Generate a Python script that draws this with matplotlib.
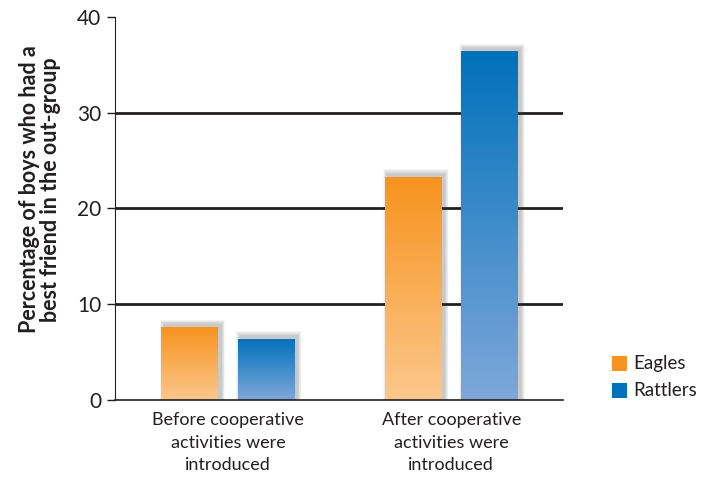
import numpy as np
import matplotlib.pyplot as plt
import matplotlib.colors as mcolors
from matplotlib.patches import Rectangle

# Data
categories = ['Before cooperative\nactivities were\nintroduced',
              'After cooperative\nactivities were\nintroduced']
eagles = [7.6, 23.3]
rattlers = [6.4, 36.4]
series_names = ['Eagles', 'Rattlers']
yticks = [0, 10, 20, 30, 40]

ORANGE_TOP, ORANGE_BOT = '#F7931E', '#FCC88C'
BLUE_TOP, BLUE_BOT = '#0071BB', '#7FA8DA'

plt.rcParams['font.family'] = ['Lato', 'DejaVu Sans']

fig = plt.figure(figsize=(7.01, 4.79), dpi=100)
ax = fig.add_axes([115 / 701, 1 - 400 / 479, 448 / 701, 383 / 479])

width = 0.255
offset = 0.171
x = np.arange(len(categories))


def gradient_bar(ax, xc, h, top, bot):
    x0 = xc - width / 2
    # soft shadow, up and to the right
    for k in range(6):
        grow = 0.006 * (6 - k)
        ax.add_patch(Rectangle((x0 + 0.012 - grow / 2, 0), width + grow,
                               h + 0.25 + 0.09 * (6 - k),
                               facecolor='#404040', alpha=0.05, edgecolor='none',
                               zorder=2))
    cmap = mcolors.LinearSegmentedColormap.from_list('g', [bot, top])
    grad = np.linspace(0, 1, 256).reshape(-1, 1)
    im = ax.imshow(grad, cmap=cmap, aspect='auto', origin='lower',
                   extent=[x0, x0 + width, 0, h], zorder=3)
    rect = Rectangle((x0, 0), width, h, facecolor='none', edgecolor='none', zorder=3)
    ax.add_patch(rect)
    im.set_clip_path(rect)


for i in range(len(categories)):
    gradient_bar(ax, x[i] - offset, eagles[i], ORANGE_TOP, ORANGE_BOT)
    gradient_bar(ax, x[i] + offset, rattlers[i], BLUE_TOP, BLUE_BOT)

for y in yticks[1:-1]:
    ax.axhline(y, color='#231F20', lw=2, zorder=1)

ax.set_xlim(-0.506, 1.5)
ax.set_ylim(0, 40)
ax.set_yticks(yticks)
ax.set_yticklabels([str(v) for v in yticks], fontsize=15, color='#231F20')
ax.set_xticks(x)
ax.set_xticklabels(categories, fontsize=13, color='#231F20', linespacing=1.5)
ax.tick_params(axis='x', length=0, pad=9)
ax.tick_params(axis='y', length=6, width=1, color='#231F20', pad=4)

for s in ['top', 'right']:
    ax.spines[s].set_visible(False)
ax.spines['left'].set_color('#231F20')
ax.spines['bottom'].set_color('#231F20')
ax.spines['bottom'].set_linewidth(1.2)
ax.spines['bottom'].set_zorder(5)

ax.set_ylabel('Percentage of boys who had a\nbest friend in the out-group',
              fontsize=15.5, fontweight='bold', color='#231F20',
              linespacing=1.0)
ax.yaxis.set_label_coords(-0.12, 0.55)

# legend
for j, (name, col) in enumerate(zip(series_names, [ORANGE_TOP, BLUE_TOP])):
    yy = 1 - (371 + j * 27) / 479
    fig.patches.append(Rectangle((612 / 701, yy), 15 / 701, 15 / 479, facecolor=col,
                                 edgecolor='none', transform=fig.transFigure))
    fig.text(633 / 701, yy + 7 / 479, name, fontsize=13.5, va='center', ha='left',
             color='#231F20')

fig.savefig('out.png', dpi=100)
